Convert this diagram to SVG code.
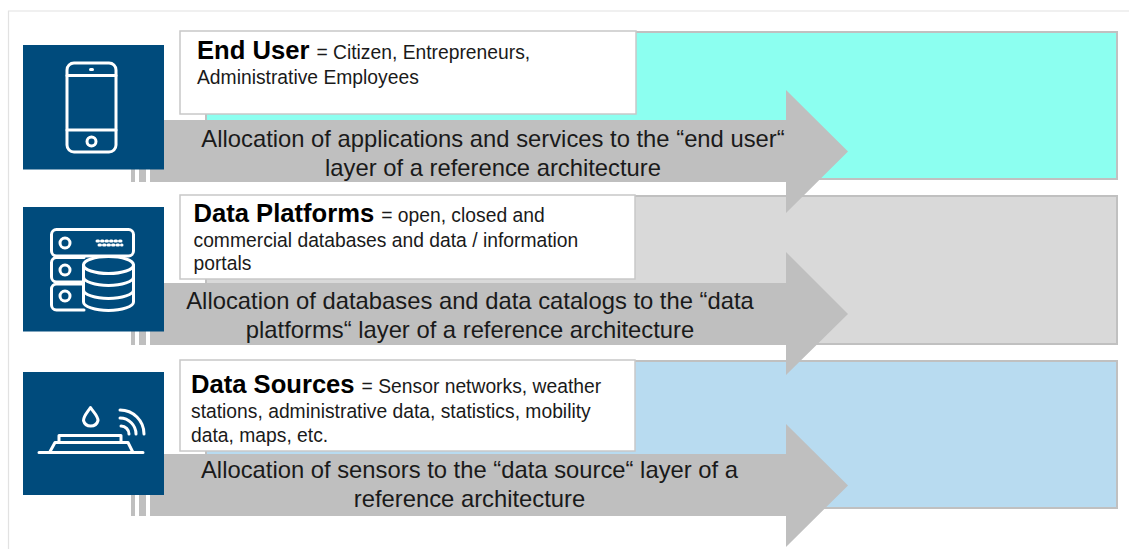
<svg xmlns="http://www.w3.org/2000/svg" width="1129" height="549" viewBox="0 0 1129 549">
<style>
text{font-family:"Liberation Sans",Arial,sans-serif;fill:#1a1a1a}
.frame{fill:none;stroke:#e2e2e2;stroke-width:1.2}
.layer{stroke:#c0c0c0;stroke-width:2}
.box{fill:#fff;stroke:#c8c8c8;stroke-width:1.500}
.tile{fill:#004b7c}
.arrow,.strip{fill:#bfbfbf}
.ic{fill:none;stroke:#fff;stroke-width:3;stroke-linejoin:round;stroke-linecap:round}
.icf{fill:#004b7c;stroke:#fff;stroke-width:3;stroke-linejoin:round;stroke-linecap:round}
.title{font-size:25.600px;font-weight:bold;fill:#000}
.desc{font-size:19.300px}
.lbl{font-size:23.800px;text-anchor:middle}
</style>
<rect width="1129" height="549" fill="#fff"/>
<path class="frame" d="M1129 11H8.500V549"/>
<g id="layer-end-user"><rect class="layer" x="206" y="32" width="911" height="147" fill="#8cfff0"/></g>
<g id="layer-data-platforms"><rect class="layer" x="206" y="196" width="911" height="148" fill="#d9d9d9"/></g>
<g id="layer-data-sources"><rect class="layer" x="206" y="361" width="911" height="147" fill="#b8dbf0"/></g>
<g id="connectors">
<g id="arrow-end-user"><path class="arrow" d="M150 120H786V90L848 151.500L786 213V182H150Z"/><rect class="strip" x="131" y="169" width="4" height="13"/><rect class="strip" x="139" y="169" width="7" height="13"/></g>
<g id="arrow-data-platforms"><path class="arrow" d="M150 283H786V252L848 314L786 375V345H150Z"/><rect class="strip" x="131" y="331" width="4" height="14"/><rect class="strip" x="139" y="331" width="7" height="14"/></g>
<g id="arrow-data-sources"><path class="arrow" d="M150 454H786V424L848 485.500L786 547V516H150Z"/><rect class="strip" x="131" y="495" width="4" height="21"/><rect class="strip" x="139" y="495" width="7" height="21"/></g>
</g>
<g id="node-end-user">
<rect class="box" x="180" y="31" width="456" height="83"/>
<text x="197" y="59"><tspan class="title">End User</tspan><tspan class="desc" dx="7">= Citizen, Entrepreneurs,</tspan></text>
<text class="desc" x="197" y="84">Administrative Employees</text>
</g>
<g id="node-data-platforms">
<rect class="box" x="180" y="195" width="455" height="84"/>
<text x="193.500" y="222"><tspan class="title">Data Platforms</tspan><tspan class="desc" dx="7">= open, closed and</tspan></text>
<text class="desc" x="193.500" y="247">commercial databases and data / information</text>
<text class="desc" x="193.500" y="270">portals</text>
</g>
<g id="node-data-sources">
<rect class="box" x="180" y="360" width="455" height="91"/>
<text x="191" y="393"><tspan class="title">Data Sources</tspan><tspan class="desc" dx="7">= Sensor networks, weather</tspan></text>
<text class="desc" x="191" y="418">stations, administrative data, statistics, mobility</text>
<text class="desc" x="191" y="442">data, maps, etc.</text>
</g>
<g id="label-end-user">
<text class="lbl" x="493" y="147">Allocation of applications and services to the “end user“</text>
<text class="lbl" x="493" y="175.500">layer of a reference architecture</text>
</g>
<g id="label-data-platforms">
<text class="lbl" x="470" y="309">Allocation of databases and data catalogs to the “data</text>
<text class="lbl" x="470" y="337.500">platforms“ layer of a reference architecture</text>
</g>
<g id="label-data-sources">
<text class="lbl" x="469.500" y="478">Allocation of sensors to the “data source“ layer of a</text>
<text class="lbl" x="469.500" y="506.500">reference architecture</text>
</g>
<g id="icon-phone">
<rect class="tile" x="23" y="45" width="141" height="124.500"/>
<rect class="ic" x="67" y="63" width="49" height="89" rx="7"/>
<path class="ic" d="M67 75.500H116M67 130H116"/>
<path class="ic" d="M90.500 69.500H92.500"/>
<circle class="ic" cx="91.500" cy="141.500" r="4.500"/>
</g>
<g id="icon-database">
<rect class="tile" x="23" y="207" width="141" height="124.500"/>
<rect class="ic" x="51.500" y="229.500" width="82" height="26.500" rx="5"/>
<path class="ic" d="M84 257.500H56.500a5 5 0 0 0-5 5V277a5 5 0 0 0 5 5H84M84 284H56.500a5 5 0 0 0-5 5V305a5 5 0 0 0 5 5H84"/>
<circle class="ic" cx="65" cy="243" r="5"/><circle class="ic" cx="65" cy="270" r="5"/><circle class="ic" cx="65" cy="296" r="5"/>
<path class="ic" d="M97 241H124M99 245H122" stroke-dasharray="1.500 3" stroke-width="1.800"/>
<path class="icf" d="M83.500 265V302C83.500 306.500 95 310.500 108.500 310.500S133.500 306.500 133.500 302V265Z"/>
<ellipse class="icf" cx="108.500" cy="265" rx="25" ry="8.500"/>
<path class="ic" d="M83.500 277C83.500 281.500 95 285.500 108.500 285.500S133.500 281.500 133.500 277M83.500 290C83.500 294.500 95 298.500 108.500 298.500S133.500 294.500 133.500 290"/>
</g>
<g id="icon-sensor">
<rect class="tile" x="23" y="372" width="141" height="123"/>
<path class="ic" d="M39 452.500H143M49.500 452.500L55 442.500H128L133 452.500M59 442V435.500H121V442"/>
<path class="ic" d="M90.500 407.500C87 413 83.500 416 83.500 420.500A7.500 7.500 0 0 0 98 420.500C98 416 94 413 90.500 407.500Z"/>
<path class="ic" d="M120 410A24 24 0 0 1 144 434M120 418A16 16 0 0 1 136 434M121 426A8 8 0 0 1 129 434"/>
</g>
</svg>
